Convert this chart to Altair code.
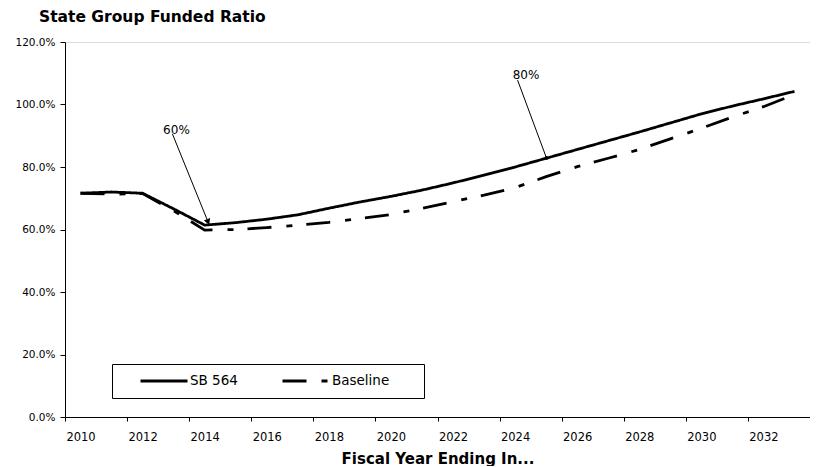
import altair as alt
import pandas as pd

NBSP = chr(160)
ZWSP = chr(8203)

years = list(range(2010, 2034))
sb564 = [71.6, 72.0, 71.6, 66.6, 61.4, 62.2, 63.3, 64.7, 66.8, 68.8, 70.6, 72.6,
         74.9, 77.4, 80.0, 82.8, 85.6, 88.4, 91.2, 94.1, 97.0, 99.5, 101.8, 104.2]
baseline = [71.6, 71.3, 71.5, 66.0, 59.8, 60.0, 60.6, 61.4, 62.3, 63.5, 64.8, 66.8,
            68.9, 71.0, 73.4, 76.9, 80.1, 82.8, 85.6, 89.0, 92.4, 96.0, 99.3, 103.2]
series_names = ["SB 564", "Baseline"]

ann_text = ["60%", "80%"]
ann_text_x = [2013.09, 2024.35]
ann_text_y = [92.0, 109.4]
ann_x1 = [2012.96, 2024.08]
ann_y1 = [90.6, 107.8]
ann_x2 = [2014.11, 2025.01]
ann_y2 = [62.4, 82.9]

y_ticks = [0, 0.2, 0.4, 0.6, 0.8, 1.0, 1.2]
x_tick_vals = [y - 0.5 for y in range(2010, 2035)]

FONT = "DejaVu Sans"

rows = []
for name, vals in zip(series_names, [sb564, baseline]):
    for yr, v in zip(years, vals):
        rows.append({"year": yr, "value": v / 100.0, "series": name})
df = pd.DataFrame(rows)

ann = pd.DataFrame({
    "text": ann_text, "tx": ann_text_x, "ty": [v / 100 for v in ann_text_y],
    "x1": ann_x1, "y1": [v / 100 for v in ann_y1],
    "x2": ann_x2, "y2": [v / 100 for v in ann_y2],
})

W, H = 745, 375
half_band = W / 24 / 2

xscale = alt.Scale(domain=[2009.5, 2033.5], nice=False, zero=False)
yscale = alt.Scale(domain=[0, 1.2], nice=False)

x_axis = alt.Axis(
    values=x_tick_vals, title="Fiscal Year Ending In...", grid=False,
    labelExpr="((datum.value + 0.5) % 2 == 0 && datum.value < 2033) ? format(datum.value + 0.5, 'd') : ''",
    labelOffset=half_band, labelFlush=False, labelOverlap=False, labelBound=False,
    tickSize=4, tickColor="black", domainColor="black", labelColor="black",
    labelFont=FONT, labelFontSize=11.5, labelPadding=10,
    titleFont=FONT, titleFontSize=15, titleFontWeight="bold", titleColor="black",
    titleBaseline="alphabetic", titleY=46,
)
y_axis = alt.Axis(
    values=y_ticks, format=".1%", title=None, grid=False,
    tickSize=5, tickColor="black", domainColor="black", labelColor="black",
    labelFont=FONT, labelFontSize=10.5, labelPadding=5,
)

lines = alt.Chart(df).mark_line(color="black", strokeWidth=2.8, strokeCap="butt").encode(
    x=alt.X("year:Q", scale=xscale, axis=x_axis),
    y=alt.Y("value:Q", scale=yscale, axis=y_axis),
    strokeDash=alt.StrokeDash(
        "series:N",
        scale=alt.Scale(domain=series_names, range=[[1, 0], [24, 15, 6, 14]]),
        sort=series_names,
        legend=alt.Legend(
            orient="none", legendX=47, legendY=322, direction="horizontal",
            title=" ", titleOrient="left", titlePadding=18, titleFontSize=11,
            padding=9, strokeColor="black", fillColor="white",
            symbolType="stroke", symbolSize=2209, symbolStrokeWidth=2.8,
            symbolStrokeColor="black", clipHeight=16,
            labelFont=FONT, labelFontSize=13.5, labelColor="black", labelOffset=1,
            columnPadding=43, labelLimit=400,
            labelExpr="datum.label == 'Baseline' ? datum.label + '" + NBSP * 6 + ZWSP + "' : datum.label",
        ),
    ),
    detail="series:N",
)

ann_lines = alt.Chart(ann).mark_rule(color="black", strokeWidth=1).encode(
    x="x1:Q", y="y1:Q", x2="x2:Q", y2="y2:Q"
)
ann_text_layer = alt.Chart(ann).mark_text(
    font=FONT, fontSize=12, color="black", align="center", baseline="middle"
).encode(x="tx:Q", y="ty:Q", text="text:N")

arrow = alt.Chart(ann[ann["text"] == "60%"]).mark_point(
    shape="triangle-down", filled=True, color="black", size=45, angle=338, opacity=1
).encode(x="x2:Q", y="y2:Q")
dot = alt.Chart(ann[ann["text"] == "80%"]).mark_point(
    shape="circle", filled=True, color="black", size=14, opacity=1
).encode(x="x2:Q", y="y2:Q")

chart = alt.layer(lines, ann_lines, ann_text_layer, arrow, dot).properties(
    width=W, height=H,
    title=alt.TitleParams(
        "State Group Funded Ratio", anchor="start", frame="group", dx=-26,
        font=FONT, fontSize=15.5, fontWeight="bold", color="black",
        baseline="alphabetic", offset=0,
    ),
    autosize=alt.AutoSizeParams(type="none"),
    padding={"left": 57, "top": 34, "right": 0, "bottom": 49},
).configure_view(stroke="black", strokeWidth=1).configure(background="white")

chart.save("out.html", embed_options={"renderer": "svg", "actions": False})
